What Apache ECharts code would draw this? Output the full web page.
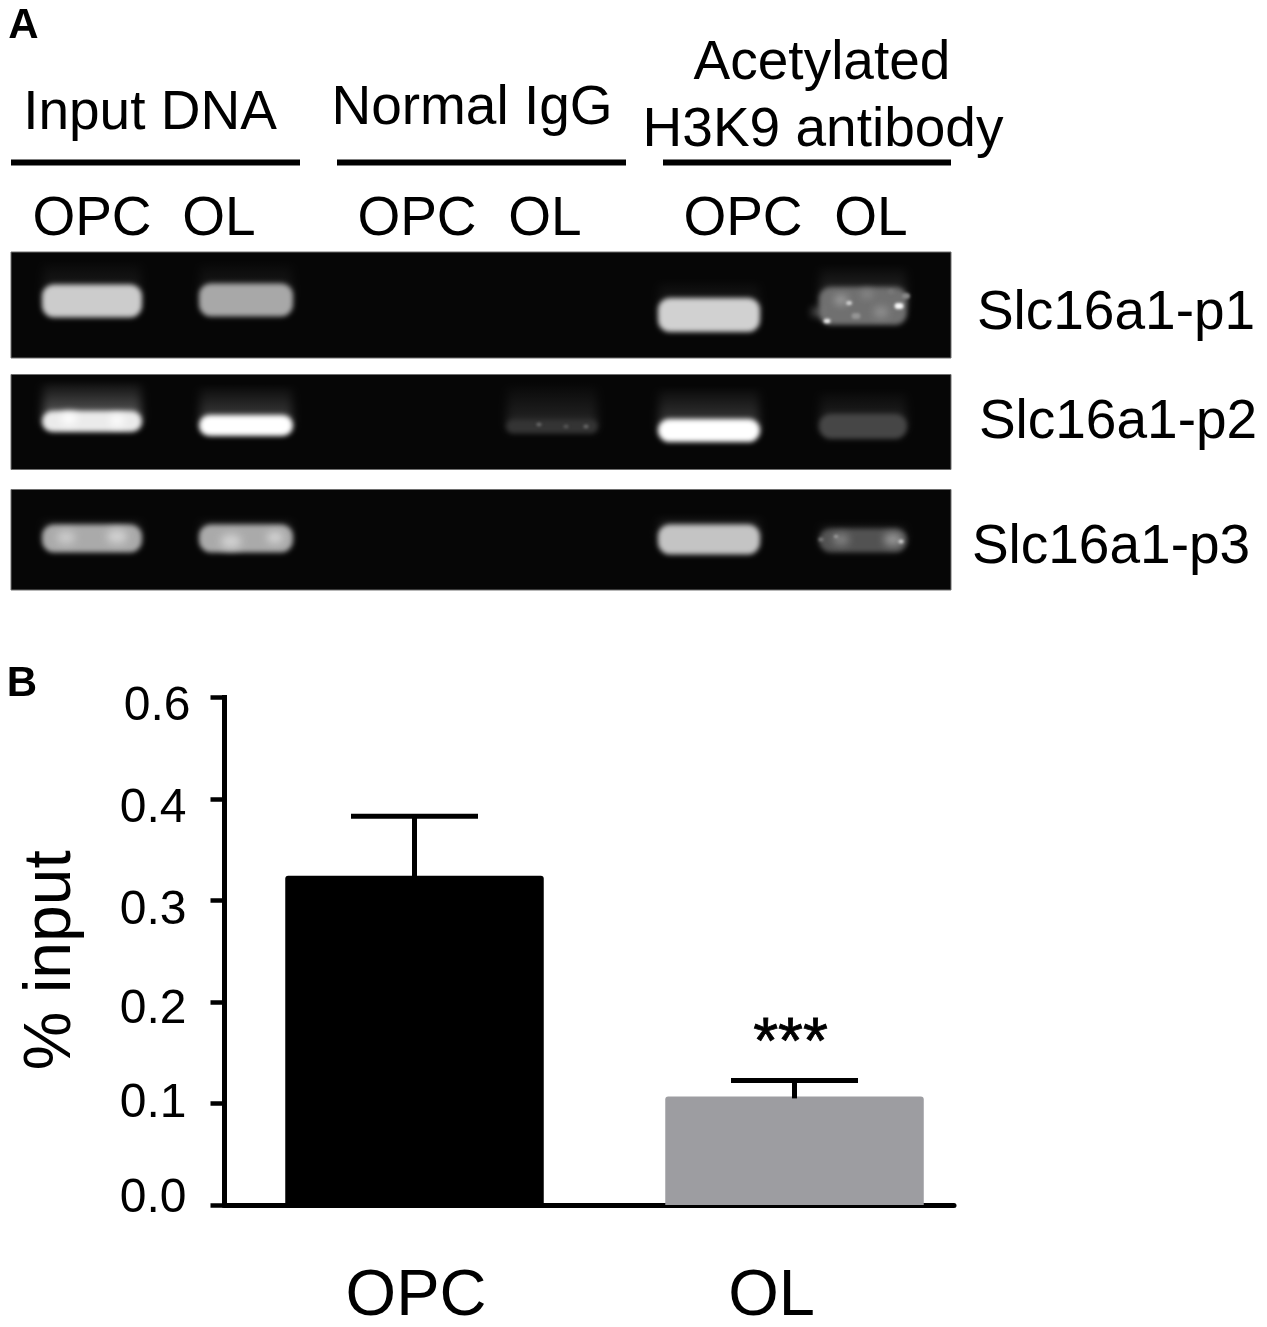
<!DOCTYPE html>
<html><head><meta charset="utf-8">
<style>html,body{margin:0;padding:0;background:#fff}#c{width:1267px;height:1327px}</style>
<script src="https://cdn.jsdelivr.net/npm/echarts@6/dist/echarts.min.js"></script>
</head><body><div id="c"></div>
<script>
// ---- Panel B data ----
const categories = ['OPC', 'OL'];
const categoryPositions = [0.5, 1.5];
const meanValues = [0.3245, 0.107];
const errorTops = [0.383, 0.1227];
const significance = ['', '***'];
const barColors = ['#000000', '#9d9da1'];
const yTickLabels = ['0.0', '0.1', '0.2', '0.3', '0.4', '0.6'];

// ---- Panel A data: one entry per lane, in gel axis units ----
const groupNames = ['Input DNA', 'Normal IgG'];
const laneNames = ['OPC', 'OL', 'OPC', 'OL', 'OPC', 'OL'];
const rowNames = ['Slc16a1-p1', 'Slc16a1-p2', 'Slc16a1-p3'];
const laneCentres = [81, 235, 407, 541, 698, 852];
const signalP1 = [204, 168, 0, 0, 209, 112];
const signalP2 = [235, 255, 0, 52, 255, 70];
const signalP3 = [170, 170, 0, 0, 196, 82];
const migrationP1 = [49, 48, 0, 0, 63, 54];
const migrationP2 = [47, 51, 0, 52, 56, 52];
const migrationP3 = [49, 49, 0, 0, 50, 51];
const thicknessP1 = [33, 33, 0, 0, 34, 38];
const thicknessP2 = [21, 21, 0, 14, 23, 25];
const thicknessP3 = [28, 28, 0, 0, 30, 24];
const smearP1 = [26, 24, 0, 0, 20, 24];
const smearP2 = [32, 32, 0, 38, 34, 26];
const smearP3 = [10, 10, 0, 0, 12, 10];
const smearLevelP1 = [0.14, 0.16, 0, 0, 0.14, 0.42];
const smearLevelP2 = [0.42, 0.26, 0, 0.7, 0.24, 0.5];
const smearLevelP3 = [0.2, 0.2, 0, 0, 0.25, 0.3];
const spotsP1 = [[838,51,6,225],[888,54,9,250],[816,69,7,240],[830,48,12,170],[870,60,14,150],[806,60,10,130],[856,42,10,150],[895,44,8,140],[845,64,9,150],[880,40,7,120]];
const spotsP2 = [[58,44,16,255],[106,46,14,255],[528,50,5,110],[575,52,5,110],[555,52,5,90]];
const spotsP3 = [[55,48,18,205],[106,47,20,210],[220,52,20,210],[264,48,16,215],[830,50,16,135],[882,50,18,155],[890,52,5,225],[825,47,4,180],[810,50,5,130]];

const bandWidths = [100, 94, 0, 92, 102, 88];
const rows = [
  {top: 252, height: 106, signal: signalP1, mig: migrationP1, thick: thicknessP1, smear: smearP1, level: smearLevelP1, spots: spotsP1},
  {top: 374.5, height: 95, signal: signalP2, mig: migrationP2, thick: thicknessP2, smear: smearP2, level: smearLevelP2, spots: spotsP2},
  {top: 489.5, height: 100.5, signal: signalP3, mig: migrationP3, thick: thicknessP3, smear: smearP3, level: smearLevelP3, spots: spotsP3}
];

const FONT = '"Liberation Sans", Arial, sans-serif';
const grey = (v, a) => `rgba(${v},${v},${v},${a === undefined ? 1 : a})`;
const OFF = 3000; // source shapes sit off canvas, so only their blurred shadow is seen

function soft(x, y, w, h, r, v, blur, fill) {
  return {type: 'rect', shape: {x: x - OFF, y, width: w, height: h, r},
    style: {fill: fill || '#000', shadowBlur: blur, shadowOffsetX: OFF, shadowColor: grey(v)}};
}

const grids = [], xAxes = [], yAxes = [], series = [];

rows.forEach((r, i) => {
  grids.push({left: 11, top: r.top, width: 940, height: r.height, show: true, outerBoundsMode: 'none',
    backgroundColor: '#060606', borderColor: '#6e6e6e', borderWidth: 1});
  xAxes.push({type: 'value', gridIndex: i, min: 0, max: 940, show: false});
  yAxes.push({type: 'value', gridIndex: i, min: 0, max: r.height, inverse: true, show: false});

  const bands = laneCentres.map((x, k) => [x, r.mig[k], bandWidths[k], r.thick[k], r.signal[k], r.smear[k], r.level[k]])
    .filter(d => d[4] > 0);
  series.push({
    type: 'custom', coordinateSystem: 'cartesian2d', xAxisIndex: i, yAxisIndex: i, clip: true, silent: true,
    data: bands,
    encode: {x: 0, y: 1},
    renderItem(params, api) {
      const c = api.coord([api.value(0), api.value(1)]);
      const s = api.size([api.value(2), api.value(3)]);
      const sig = api.value(4), sm = api.value(5), lvl = api.value(6);
      const w = s[0], h = s[1];
      const smearH = api.size([0, sm])[1];
      const fade = {type: 'linear', x: 0, y: 0, x2: 0, y2: 1,
        colorStops: [{offset: 0, color: 'rgba(0,0,0,0)'}, {offset: 1, color: `rgba(0,0,0,${lvl})`}]};
      const top = c[1] - h / 2 - smearH;
      return {
        type: 'group',
        children: [
          soft(c[0] - w / 2 + 1, top, w - 2, smearH + h / 2, 0, sig, 9, fade),
          soft(c[0] - w / 2, c[1] - h / 2, w, h, Math.min(h / 2, 12), sig, 5.5)
        ]
      };
    }
  });
  series.push({
    type: 'custom', coordinateSystem: 'cartesian2d', xAxisIndex: i, yAxisIndex: i, clip: true, silent: true,
    data: r.spots,
    encode: {x: 0, y: 1},
    renderItem(params, api) {
      const c = api.coord([api.value(0), api.value(1)]);
      const d = api.value(2), v = api.value(3);
      return soft(c[0] - d / 2, c[1] - d / 3, d, d / 1.5, d / 3, v, d > 9 ? 9 : 3);
    }
  });
});

// ---- Panel B ----
const B = rows.length;
grids.push({left: 224.5, top: 697.5, width: 729.5, height: 507.5, outerBoundsMode: 'none'});
xAxes.push({
  type: 'value', gridIndex: B, min: 0, max: 1.9197, splitLine: {show: false},
  axisLine: {show: true, lineStyle: {color: '#000', width: 5}},
  axisTick: {show: false},
  axisLabel: {
    customValues: categoryPositions, margin: 60, color: '#000', fontFamily: FONT, fontSize: 65,
    formatter: v => `{c${Math.floor(v)}|${categories[Math.floor(v)]}}`,
    rich: {
      c0: {fontFamily: FONT, fontSize: 65, color: '#000', padding: [0, 0, 0, 3]},
      c1: {fontFamily: FONT, fontSize: 65, color: '#000', padding: [0, 46, 0, 0]}
    }
  }
});
const tickRich = {};
const labelShift = [[2, 0, 14], [2, 0, 1], [16, 0, 0], [20, 0, 0], [20, 0, 0], [18, -4, 0]];
labelShift.forEach((p, i) => {
  tickRich['t' + i] = {fontFamily: FONT, fontSize: 48, color: '#000', padding: [p[0], 4 + p[1], p[2], 0]};
});
yAxes.push({
  type: 'value', gridIndex: B, min: 0, max: 0.5, interval: 0.1, splitLine: {show: false},
  name: '% input', nameLocation: 'middle', nameGap: 140, nameRotate: 90,
  nameTextStyle: {fontFamily: FONT, fontSize: 66, color: '#000', padding: [0, 18, 0, 0]},
  axisLine: {show: true, lineStyle: {color: '#000', width: 5, cap: 'square'}},
  axisTick: {show: true, length: 14, lineStyle: {color: '#000', width: 4.5}},
  axisLabel: {
    margin: 34, color: '#000', fontFamily: FONT, fontSize: 48,
    formatter: v => { const i = Math.round(v * 10); return `{t${i}|${yTickLabels[i]}}`; },
    rich: tickRich
  }
});
series.push({
  type: 'bar', xAxisIndex: B, yAxisIndex: B, barWidth: 258.5, silent: true, z: 2,
  data: categoryPositions.map((x, i) => ({value: [x, meanValues[i]], itemStyle: {color: barColors[i], borderRadius: [3, 3, 0, 0]}}))
});
series.push({
  type: 'custom', coordinateSystem: 'cartesian2d', xAxisIndex: B, yAxisIndex: B, silent: true, z: 3,
  data: categoryPositions.map((x, i) => [x, meanValues[i], errorTops[i], i]),
  encode: {x: 0, y: 2},
  renderItem(params, api) {
    const x = api.value(0), i = api.value(3);
    const base = api.coord([x, api.value(1)]), top = api.coord([x, api.value(2)]);
    const style = {stroke: '#000', lineWidth: 5, fill: 'none'};
    const children = [
      {type: 'line', shape: {x1: top[0], y1: base[1] + 2, x2: top[0], y2: top[1]}, style},
      {type: 'line', shape: {x1: top[0] - 63.5, y1: top[1], x2: top[0] + 63.5, y2: top[1]}, style}
    ];
    if (significance[i]) {
      children.push({type: 'text', style: {x: top[0] - 4, y: top[1] - 35, text: significance[i], align: 'center', verticalAlign: 'middle',
        font: `64px ${FONT}`, fill: '#000', stroke: '#000', lineWidth: 0.8}, z2: 5});
    }
    return {type: 'group', children};
  }
});

// ---- Static annotation text and rules of panel A ----
const txt = (text, x, y, size, weight) => ({
  type: 'text', x, y, silent: true,
  style: {text, font: `${weight || 'normal'} ${size}px ${FONT}`, fill: '#000', align: 'center', verticalAlign: 'middle'}
});
const rule = (x1, x2) => ({type: 'line', silent: true, shape: {x1, y1: 162.5, x2, y2: 162.5}, style: {stroke: '#000', lineWidth: 6}});
const laneLabelX = [92, 219, 417, 545, 743, 871];

const graphics = [
  txt('A', 23.5, 26, 42, 'bold'), txt('B', 22, 684, 42, 'bold'),
  txt(groupNames[0], 150, 114, 55), txt(groupNames[1], 472, 109, 55),
  txt('Acetylated', 822, 64, 55), txt('H3K9 antibody', 823, 131, 55),
  rule(11, 300), rule(337, 626), rule(663, 951),
  ...laneNames.map((n, i) => txt(n, laneLabelX[i], 220, 55)),
  txt(rowNames[0], 1116, 314, 55), txt(rowNames[1], 1118, 423, 55), txt(rowNames[2], 1111, 548, 55)
];

const chart = echarts.init(document.getElementById('c'), null, {renderer: 'canvas'});
chart.setOption({
  animation: false, backgroundColor: '#fff', tooltip: {show: false},
  grid: grids, xAxis: xAxes, yAxis: yAxes, series, graphic: {elements: graphics}
});
</script></body></html>
